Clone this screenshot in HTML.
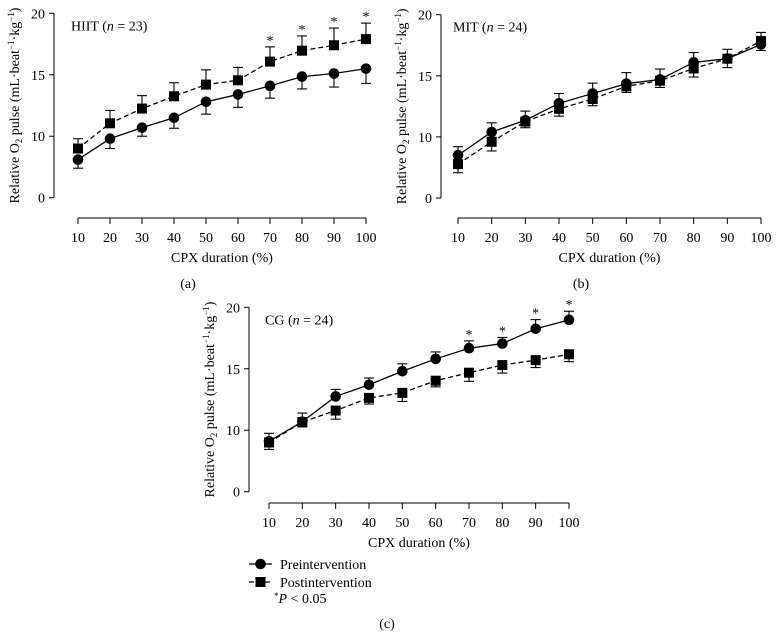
<!DOCTYPE html>
<html><head><meta charset="utf-8"><style>
body{margin:0;background:#fff}
svg{display:block;font-family:"Liberation Serif",serif}
</style></head><body>
<svg id="fig" width="779" height="637" viewBox="0 0 779 637" xmlns="http://www.w3.org/2000/svg"></svg>
<script>
const categories=[10,20,30,40,50,60,70,80,90,100];
const yTickValues=[5,10,15,20];
const yTickLabels=['0','10','15','20'];
// Panel a (HIIT)
const aPre=[8.1,9.8,10.7,11.5,12.8,13.4,14.1,14.85,15.1,15.5];
const aPreErr=[0.7,0.8,0.7,0.85,1.0,1.05,1.0,1.0,1.1,1.2];
const aPreDir=[-1,-1,-1,-1,-1,-1,-1,-1,-1,-1];
const aPost=[9.0,11.05,12.25,13.25,14.2,14.55,16.07,16.96,17.4,17.9];
const aPostErr=[0.8,1.05,1.05,1.1,1.2,1.05,1.2,1.2,1.4,1.3];
const aPostDir=[1,1,1,1,1,1,1,1,1,1];
const aSig=[0,0,0,0,0,0,1,1,1,1];
// Panel b (MIT)
const bPre=[8.5,10.4,11.36,12.75,13.55,14.36,14.7,16.1,16.4,17.57];
const bPreErr=[0.7,0.75,0.75,0.8,0.85,0.9,0.85,0.8,0.77,0.5];
const bPreDir=[1,1,1,1,1,1,1,1,1,-1];
const bPost=[7.77,9.6,11.25,12.3,13.1,14.14,14.6,15.6,16.4,17.85];
const bPostErr=[0.7,0.75,0.5,0.6,0.55,0.5,0.55,0.7,0.73,0.7];
const bPostDir=[-1,-1,-1,-1,-1,-1,-1,-1,-1,1];
const bSig=[0,0,0,0,0,0,0,0,0,0];
// Panel c (CG)
const cPre=[9.1,10.7,12.75,13.7,14.8,15.8,16.67,17.05,18.25,18.98];
const cPreErr=[0.65,0.7,0.57,0.55,0.6,0.57,0.6,0.5,0.75,0.7];
const cPreDir=[1,1,1,1,1,1,1,1,1,1];
const cPost=[9.0,10.67,11.6,12.63,13.04,14.03,14.68,15.3,15.7,16.18];
const cPostErr=[0.56,0.4,0.7,0.5,0.7,0.5,0.7,0.65,0.6,0.6];
const cPostDir=[-1,-1,-1,-1,-1,-1,-1,-1,-1,-1];
const cSig=[0,0,0,0,0,0,1,1,1,1];

const NS='http://www.w3.org/2000/svg';
const svg=document.getElementById('fig');
function el(tag,attrs,parent,text){const e=document.createElementNS(NS,tag);for(const k in attrs)e.setAttribute(k,attrs[k]);if(text!==undefined)e.textContent=text;(parent||svg).appendChild(e);return e;}
const FS=14;
function panel(cfg){
  const g=el('g',{});
  
  
  const yS=v=>cfg.y5+(v-5)*(cfg.y20-cfg.y5)/15;
  const xS=c=>cfg.x0+(c-10)*(cfg.x1-cfg.x0)/90;
  const ya=el('g',{},g);
  
  
  el('line',{x1:cfg.ax,x2:cfg.ax,y1:yS(20),y2:yS(5),stroke:'#000','stroke-width':1},ya);
  yTickValues.forEach((v,i)=>{
    el('line',{x1:cfg.ax-5,x2:cfg.ax,y1:yS(v),y2:yS(v),stroke:'#000'},ya);
    const t=el('text',{x:cfg.ax-9,y:yS(v)+5,'text-anchor':'end','font-size':FS},ya,yTickLabels[i]);
    
    
  });
  const yt=el('text',{transform:`translate(${cfg.titleX},${(yS(20)+yS(5))/2}) rotate(-90)`,'text-anchor':'middle','font-size':FS},g);
  
  
  yt.innerHTML='Relative O<tspan font-size="9" dy="3">2</tspan><tspan dy="-3"> pulse (mL·beat</tspan><tspan font-size="9" dy="-5">−1</tspan><tspan dy="5">·kg</tspan><tspan font-size="9" dy="-5">−1</tspan><tspan dy="5">)</tspan>';
  const xa=el('g',{},g);
  
  
  el('line',{x1:xS(10),x2:xS(100),y1:cfg.xay,y2:cfg.xay,stroke:'#000'},xa);
  categories.forEach(c=>{
    el('line',{x1:xS(c),x2:xS(c),y1:cfg.xay,y2:cfg.xay+6,stroke:'#000'},xa);
    const t=el('text',{x:xS(c),y:cfg.xay+24,'text-anchor':'middle','font-size':FS},xa,String(c));
    
    
  });
  const xt=el('text',{x:(xS(10)+xS(100))/2,y:cfg.xay+44,'text-anchor':'middle','font-size':FS},g,'CPX duration (%)');
  
  
  const pl=el('text',{x:cfg.plx,y:cfg.ply,'text-anchor':'middle','font-size':FS},g,cfg.letter);
  
  
  const gt=el('text',{x:cfg.gx,y:yS(20)+17,'font-size':FS},g);
  
  
  gt.innerHTML=cfg.group+' (<tspan font-style="italic">n</tspan> = '+cfg.n+')';
  function series(vals,err,dir,kind){
    const sg=el('g',{},g);
    
    
    vals.forEach((v,i)=>{
      const x=xS(categories[i]),y1=yS(v),y2=yS(v+dir[i]*err[i]);
      el('line',{x1:x,x2:x,y1:y1,y2:y2,stroke:'#000','stroke-width':1.1},sg);
      el('line',{x1:x-5,x2:x+5,y1:y2,y2:y2,stroke:'#000','stroke-width':1.1},sg);
    });
    const d=vals.map((v,i)=>(i?'L':'M')+xS(categories[i])+','+yS(v)).join(' ');
    const p=el('path',{d:d,fill:'none',stroke:'#000','stroke-width':1.3,'stroke-dasharray':kind==='pre'?'none':'5,3'},sg);
    
    
    vals.forEach((v,i)=>{
      const x=xS(categories[i]),y=yS(v);
      let m;
      if(kind==='pre') m=el('circle',{cx:x,cy:y,r:5.3,fill:'#000'},sg);
      else m=el('rect',{x:x-5,y:y-5,width:10,height:10,fill:'#000'},sg);
      
      
    });
    return vals.map((v,i)=>yS(v+dir[i]*err[i]));
  }
  const t1=series(cfg.pre,cfg.preErr,cfg.preDir,'pre');
  const t2=series(cfg.post,cfg.postErr,cfg.postDir,'post');
  cfg.sig.forEach((s,i)=>{
    if(!s)return;
    const top=Math.min(t1[i],t2[i]);
    const st=el('text',{x:xS(categories[i]),y:top-2,'text-anchor':'middle','font-size':FS},g,'*');
    
    
  });
}
panel({name:'panel-a-hiit',group:'HIIT',n:23,letter:'(a)',pre:aPre,preErr:aPreErr,preDir:aPreDir,post:aPost,postErr:aPostErr,postDir:aPostDir,sig:aSig,
  ax:54,y20:13.3,y5:197.7,x0:78,x1:366,xay:218,titleX:19,gx:71,plx:188,ply:288});
panel({name:'panel-b-mit',group:'MIT',n:24,letter:'(b)',pre:bPre,preErr:bPreErr,preDir:bPreDir,post:bPost,postErr:bPostErr,postDir:bPostDir,sig:bSig,
  ax:441,y20:14.7,y5:198,x0:458,x1:761,xay:218,titleX:406,gx:453,plx:581,ply:288});
panel({name:'panel-c-cg',group:'CG',n:24,letter:'(c)',pre:cPre,preErr:cPreErr,preDir:cPreDir,post:cPost,postErr:cPostErr,postDir:cPostDir,sig:cSig,
  ax:249,y20:307.3,y5:491.7,x0:269,x1:569,xay:503,titleX:214,gx:265,plx:387,ply:628});
const lg=el('g',{});


const l1=el('g',{},lg);


el('line',{x1:249,x2:272,y1:564,y2:564,stroke:'#000','stroke-width':1.3},l1);
el('circle',{cx:260.5,cy:564,r:5.3,fill:'#000'},l1);
el('text',{x:280,y:569,'font-size':FS},l1,'Preintervention');
const l2=el('g',{},lg);


el('line',{x1:249,x2:272,y1:582,y2:582,stroke:'#000','stroke-width':1.3,'stroke-dasharray':'5,3'},l2);
el('rect',{x:255.5,y:577,width:10,height:10,fill:'#000'},l2);
el('text',{x:280,y:587,'font-size':FS},l2,'Postintervention');
const l3=el('text',{x:274,y:603,'font-size':FS},lg);


l3.innerHTML='<tspan font-size="9" dy="-4">*</tspan><tspan dy="4" font-style="italic">P</tspan> &lt; 0.05';
</script>
</body></html>
